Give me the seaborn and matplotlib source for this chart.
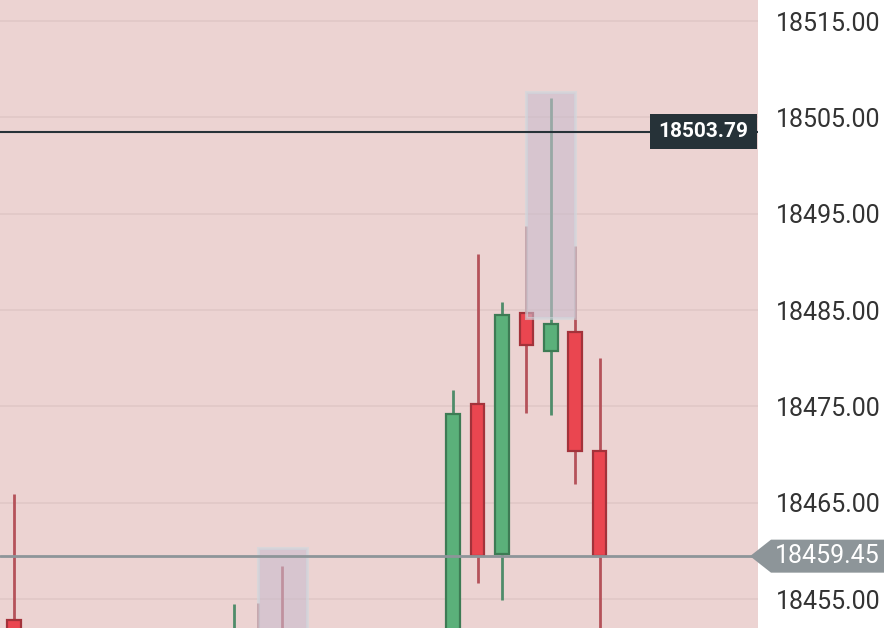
import matplotlib
matplotlib.use('Agg')
import matplotlib.pyplot as plt
import matplotlib.patches as mpatches
import matplotlib.transforms as mtransforms
import numpy as np
import pandas as pd
import seaborn as sns

# candle data (index, OHLC) - lower candles sit below the visible window
candle_idx = list(range(25))
opens  = [18452.8, 18446.0, 18444.5, 18443.0, 18445.5, 18444.0, 18446.5, 18445.0, 18447.0, 18447.8,
          18451.0, 18451.5, 18446.0, 18445.0, 18444.0, 18443.5, 18442.0, 18444.0, 18448.0, 18475.25,
          18459.67, 18484.70, 18480.75, 18482.73, 18470.37]
closes = [18449.5, 18444.5, 18443.0, 18445.5, 18444.0, 18446.5, 18445.0, 18447.0, 18447.8, 18451.2,
          18448.0, 18446.0, 18445.0, 18444.0, 18443.5, 18442.0, 18444.0, 18448.0, 18474.21, 18459.47,
          18484.49, 18481.38, 18483.56, 18470.37, 18459.47]
highs  = [18465.90, 18447.0, 18446.0, 18446.5, 18446.0, 18447.0, 18447.5, 18448.0, 18449.0, 18454.48,
          18454.58, 18458.43, 18447.0, 18446.0, 18445.0, 18444.5, 18445.0, 18449.0, 18476.70, 18490.83,
          18485.84, 18493.73, 18507.03, 18491.66, 18480.03]
lows   = [18447.0, 18443.0, 18441.5, 18442.0, 18443.0, 18443.0, 18444.0, 18444.0, 18446.0, 18446.5,
          18446.5, 18444.5, 18443.5, 18442.5, 18441.0, 18440.5, 18441.0, 18443.0, 18446.0, 18456.66,
          18454.90, 18474.31, 18474.11, 18466.94, 18450.0]

# zones: (start index, end index, top, bottom)
zone_start = [10, 21]
zone_end = [12, 23]
zone_top = [18460.3, 18507.65]
zone_bottom = [18440.0, 18484.18]

last_price = 18459.45
level_price = 18503.79
yticks = [18455, 18465, 18475, 18485, 18495, 18505, 18515]

df = pd.DataFrame({'i': candle_idx, 'open': opens, 'close': closes, 'high': highs, 'low': lows})
df['up'] = df['close'] >= df['open']

sns.set_theme(style='whitegrid', rc={'axes.facecolor': '#ecd3d2', 'grid.color': '#e2c8c7',
                                     'grid.linewidth': 1.3, 'figure.facecolor': 'white'})
plt.rcParams['font.family'] = ['Roboto', 'DejaVu Sans']

fig = plt.figure(figsize=(8.9, 6.28), dpi=100)
ax = fig.add_axes([0, 0, 758 / 890, 1])

green, green_edge, green_wick = '#5bb07a', '#3d7b54', '#4f8c6a'
red, red_edge, red_wick = '#ea4650', '#a3323a', '#b5525a'

for _, r in df.iterrows():
    wick = green_wick if r['up'] else red_wick
    ax.vlines(r['i'], r['low'], r['high'], color=wick, lw=2, zorder=2)
body = df['close'] - df['open']
ax.bar(df['i'], body.where(body.abs() > 0.05, 0.1), bottom=df['open'], width=0.56,
       color=np.where(df['up'], green, red), edgecolor=np.where(df['up'], green_edge, red_edge),
       linewidth=1.6, zorder=3)

for s, e, t, b in zip(zone_start, zone_end, zone_top, zone_bottom):
    ax.add_patch(mpatches.Rectangle((s, b), e - s, t - b, facecolor='#c9bccd', alpha=0.6,
                                    edgecolor='#cfd9df', linewidth=2.2, zorder=4))

ax.axhline(level_price - 0.25, color='#263238', lw=1.5, zorder=5)
ax.axhline(last_price, color='#8d9599', lw=2, zorder=5)

ax.set_xlim(-0.574, 30.49)
ax.set_ylim(18451.99, 18517.2)
ax.set_yticks(yticks)
ax.set_yticklabels([f'{v:.2f}' for v in yticks])
ax.yaxis.tick_right()
ax.tick_params(axis='y', length=0, pad=13, labelsize=18, labelcolor='#333333')
ax.set_xticks([])
ax.grid(axis='x', visible=False)
for sp in ax.spines.values():
    sp.set_visible(False)

# level tag inside plot
trans = mtransforms.blended_transform_factory(ax.transAxes, ax.transData)
ax.text(0.9875, level_price - 0.25, f'{level_price:.2f}', transform=trans, ha='right', va='center',
        fontsize=15, fontweight='bold', color='white', zorder=6,
        bbox=dict(boxstyle='square,pad=0.4', fc='#263238', ec='none'))

# last price tag with arrow, straddling the axis edge
fig.canvas.draw()
_, yp = ax.transData.transform((0, last_price))
W, H = fig.bbox.width, fig.bbox.height
h = 16.5
pts = [(750, yp), (771, yp + h), (884, yp + h), (884, yp - h), (771, yp - h)]
fig.add_artist(mpatches.Polygon([(x / W, y / H) for x, y in pts], closed=True,
                                transform=fig.transFigure, facecolor='#8d9599', edgecolor='none',
                                clip_on=False, zorder=10))
fig.text(775 / W, yp / H, f'{last_price:.2f}', ha='left', va='center', fontsize=18,
         color='white', zorder=11)

fig.savefig('out.png', dpi=100)
